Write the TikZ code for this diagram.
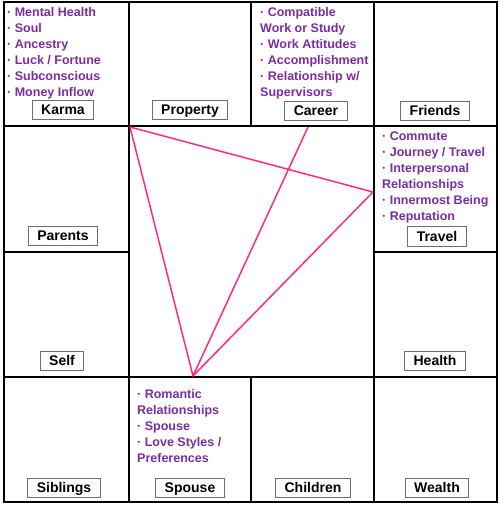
\documentclass[tikz,border=0pt]{standalone}
\usepackage{fontspec}
\setmainfont{Liberation Sans}
\usetikzlibrary{positioning}
\definecolor{plum}{HTML}{7B2D9F}
\definecolor{rose}{HTML}{FF2A85}
\definecolor{edge}{HTML}{6E6E6E}

\begin{document}
\begin{tikzpicture}[x=1pt,y=-1pt,
  grid/.style={black,line width=1.8pt},
  house/.style={draw=edge,line width=.9pt,fill=white,inner xsep=9pt,inner ysep=2.5pt,text height=12pt,text depth=2.5pt,font=\bfseries\fontsize{14}{14}\selectfont},
  topics/.style={text=plum,align=left,anchor=north west,inner sep=0pt,font=\bfseries\fontsize{12.5}{16}\selectfont}]
\useasboundingbox (0,0) rectangle (499,506);
% chart frame
\draw[grid] (4,2) rectangle (497,502);
\foreach \x in {129,374}{\draw[grid] (\x,2)--(\x,502);}
\foreach \y in {126,377}{\draw[grid] (4,\y)--(497,\y);}
\draw[grid] (251,2)--(251,126) (251,377)--(251,502) (4,252)--(129,252) (374,252)--(497,252);
% aspect lines
\coordinate (p0) at (130,127);\coordinate (p1) at (308,127);
\coordinate (p2) at (373,192);\coordinate (p3) at (193,376);
\draw[rose,line width=1.5pt,line join=round] (p0)--(p2)--(p3)--cycle;
\draw[rose,line width=1.5pt] (p1)--(p3);
% houses
\foreach \n/\t/\x/\y in {karma/Karma/63/110,property/Property/190/110,career/Career/316/111,friends/Friends/435/111,
  parents/Parents/63/236,travel/Travel/437/236.5,self/Self/62/361,health/Health/435/361,
  siblings/Siblings/64/488,spouse/Spouse/190/488,children/Children/313/488,wealth/Wealth/437/488}
  {\node[house] (\n) at (\x,\y) {\t};}
% topics
\node[topics] (karmaT) at (7,7) {· Mental Health\\· Soul\\· Ancestry\\· Luck / Fortune\\· Subconscious\\· Money Inflow};
\node[topics] (careerT) at (260,7) {· Compatible\\Work or Study\\· Work Attitudes\\· Accomplishment\\· Relationship w/\\Supervisors};
\node[topics] (travelT) at (382,132) {· Commute\\· Journey / Travel\\· Interpersonal\\Relationships\\· Innermost Being\\· Reputation};
\node[topics] (spouseT) at (137,389) {· Romantic\\Relationships\\· Spouse\\· Love Styles /\\Preferences};
\end{tikzpicture}
\end{document}
